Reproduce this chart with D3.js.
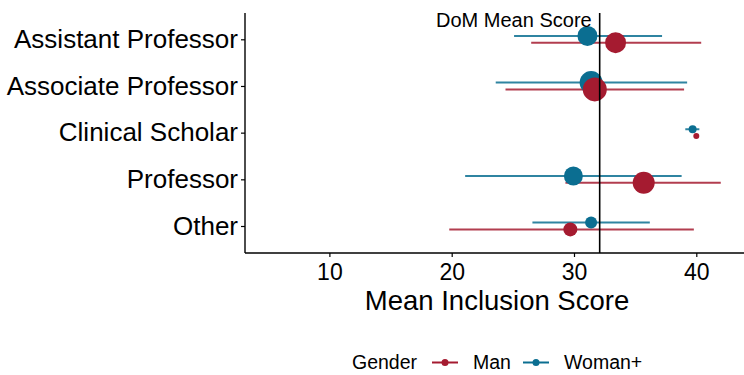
<!DOCTYPE html>
<html>
<head>
<meta charset="utf-8">
<script src="https://cdn.jsdelivr.net/npm/d3@7"></script>
<style>
  body { margin: 0; background: #fff; }
  text { font-family: "Liberation Sans", Arial, sans-serif; fill: #000; }
</style>
</head>
<body>
<svg id="chart" width="744" height="375"></svg>
<script>
// categorias de arriba a abajo
const ranks = ['Assistant Professor', 'Associate Professor', 'Clinical Scholar', 'Professor', 'Other'];
const genders = ['Man', 'Woman+'];
const colores = ['#a51b30', '#0b6e91'];

// media, limite inferior, limite superior, n (por rango)
const manMean = [33.4, 31.7, 40.0, 35.7, 29.7];
const manLow = [26.5, 24.4, 40.0, 29.3, 19.8];
const manHigh = [40.4, 39.0, 40.0, 42.0, 39.8];
const manN = [110, 144, 9, 121, 49];

const womanMean = [31.1, 31.4, 39.7, 29.95, 31.4];
const womanLow = [25.1, 23.6, 39.1, 21.1, 26.6];
const womanHigh = [37.2, 39.25, 40.25, 38.8, 36.2];
const womanN = [100, 132, 16, 90, 36];

const domMean = 32.1;
const xTicks = [10, 20, 30, 40];

const puntos = [];
ranks.forEach((r, i) => {
  puntos.push({ rank: r, gender: 'Woman+', mean: womanMean[i], low: womanLow[i], high: womanHigh[i], n: womanN[i] });
  puntos.push({ rank: r, gender: 'Man', mean: manMean[i], low: manLow[i], high: manHigh[i], n: manN[i] });
});

const svg = d3.select('#chart');
const margin = { left: 245, right: 0, top: 13, bottom: 122 };
const width = 744 - margin.left - margin.right;
const height = 375 - margin.top - margin.bottom;

const x = d3.scaleLinear().domain([3.1, 43.9]).range([0, width]);
const y = d3.scalePoint().domain(ranks).range([26.3, 213]);
const dodge = d3.scalePoint().domain(['Woman+', 'Man']).range([-3.4, 3.4]);
const color = d3.scaleOrdinal().domain(genders).range(colores);
const size = d3.scaleSqrt().domain([0, 144]).range([0, 12]);

const g = svg.append('g').attr('transform', `translate(${margin.left},${margin.top})`);

// intervalos
g.selectAll('.rango')
  .data(puntos)
  .enter()
  .append('line')
  .attr('x1', d => x(d.low))
  .attr('x2', d => x(d.high))
  .attr('y1', d => y(d.rank) + dodge(d.gender))
  .attr('y2', d => y(d.rank) + dodge(d.gender))
  .attr('stroke', d => color(d.gender))
  .attr('stroke-opacity', 0.85)
  .attr('stroke-width', 2);

// puntos
g.selectAll('.punto')
  .data(puntos)
  .enter()
  .append('circle')
  .attr('cx', d => x(d.mean))
  .attr('cy', d => y(d.rank) + dodge(d.gender))
  .attr('r', d => size(d.n))
  .attr('fill', d => color(d.gender));

// linea de la media del DoM
g.append('line')
  .attr('x1', x(domMean)).attr('x2', x(domMean))
  .attr('y1', 0).attr('y2', height)
  .attr('stroke', '#000').attr('stroke-width', 1.6);

g.append('text')
  .attr('x', x(domMean) - 8)
  .attr('y', 14)
  .attr('text-anchor', 'end')
  .style('font-size', '20px')
  .text('DoM Mean Score');

// ejes
const xAxis = g.append('g')
  .attr('transform', `translate(0,${height})`)
  .call(d3.axisBottom(x).tickValues(xTicks).tickSize(4).tickPadding(7));
xAxis.select('.domain').attr('d', `M0,0H${width}`).attr('stroke-width', 1.4);
xAxis.selectAll('.tick line').attr('stroke-width', 1.2);
xAxis.selectAll('text').style('font-size', '23px').attr('fill', '#000').style('font-family', '"Liberation Sans", Arial, sans-serif');

const yAxis = g.append('g')
  .call(d3.axisLeft(y).tickSize(4).tickPadding(3));
yAxis.select('.domain').attr('d', `M0,0V${height}`).attr('stroke-width', 1.4);
yAxis.selectAll('.tick line').attr('stroke-width', 1.2);
yAxis.selectAll('text').style('font-size', '26px').attr('fill', '#000').style('font-family', '"Liberation Sans", Arial, sans-serif');

svg.append('text')
  .attr('x', 497)
  .attr('y', 310)
  .attr('text-anchor', 'middle')
  .style('font-size', '27.5px')
  .text('Mean Inclusion Score');

// leyenda
const ley = svg.append('g').attr('transform', 'translate(352,369)');
ley.append('text').attr('x', 0).attr('y', 0).style('font-size', '19.5px').text('Gender');
const items = [{ g: 'Man', x: 80 }, { g: 'Woman+', x: 171 }];
items.forEach(it => {
  const k = ley.append('g').attr('transform', `translate(${it.x},-6.5)`);
  k.append('line').attr('x1', 0).attr('x2', 26).attr('stroke', color(it.g)).attr('stroke-width', 2);
  k.append('circle').attr('cx', 13).attr('r', 3.5).attr('fill', color(it.g));
  ley.append('text').attr('x', it.x + 41).attr('y', 0).style('font-size', '19.5px').text(it.g);
});
</script>
</body>
</html>
